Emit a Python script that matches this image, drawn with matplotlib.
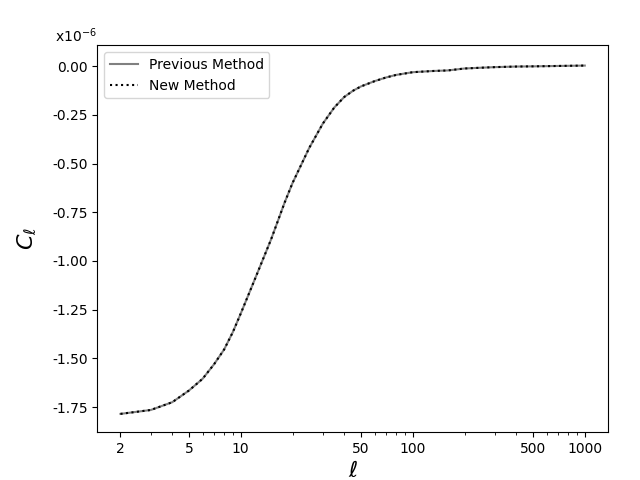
import numpy as np
import matplotlib
matplotlib.use('Agg')
import matplotlib.pyplot as plt
from matplotlib.ticker import FixedLocator, FixedFormatter, FormatStrFormatter

# multipoles and C_ell (in units of 1e-6)
ell = [2, 3, 4, 5, 6, 7, 8, 9, 10, 12, 15, 18, 20, 25, 30, 35, 40, 45, 50,
       60, 70, 80, 100, 130, 160, 200, 250, 300, 400, 500, 700, 1000]
cl_prev = [-1.785, -1.765, -1.725, -1.665, -1.605, -1.530, -1.455, -1.365,
           -1.270, -1.100, -0.890, -0.700, -0.600, -0.420, -0.295, -0.212,
           -0.158, -0.126, -0.104, -0.077, -0.058, -0.045, -0.031, -0.025,
           -0.022, -0.012, -0.008, -0.005, -0.002, -0.001, 0.001, 0.003]
cl_new = list(cl_prev)

xticks = [2, 5, 10, 50, 100, 500, 1000]

fig, ax = plt.subplots(figsize=(6.4, 4.8), dpi=100)
fig.subplots_adjust(left=0.152, right=0.95, top=0.906, bottom=0.1)

ax.plot(ell, cl_prev, color='grey', lw=1.5, label='Previous Method')
ax.plot(ell, cl_new, color='k', ls=':', lw=1.5, label='New Method')

ax.set_xscale('log')
ax.xaxis.set_major_locator(FixedLocator(xticks))
ax.xaxis.set_major_formatter(FixedFormatter([str(t) for t in xticks]))
ax.yaxis.set_major_formatter(FormatStrFormatter('%.2f'))
ax.set_ylim(-1.878, 0.108)

ax.set_xlabel(r'$\ell$', fontsize=16)
ax.set_ylabel(r'$C_\ell$', fontsize=16)
ax.yaxis.set_label_coords(-0.116, 0.5)
fig.text(55/640, 1 - 45/480, r'x$10^{-6}$', fontsize=10, va='bottom')

ax.legend(loc='upper left')
plt.savefig('out.png')
